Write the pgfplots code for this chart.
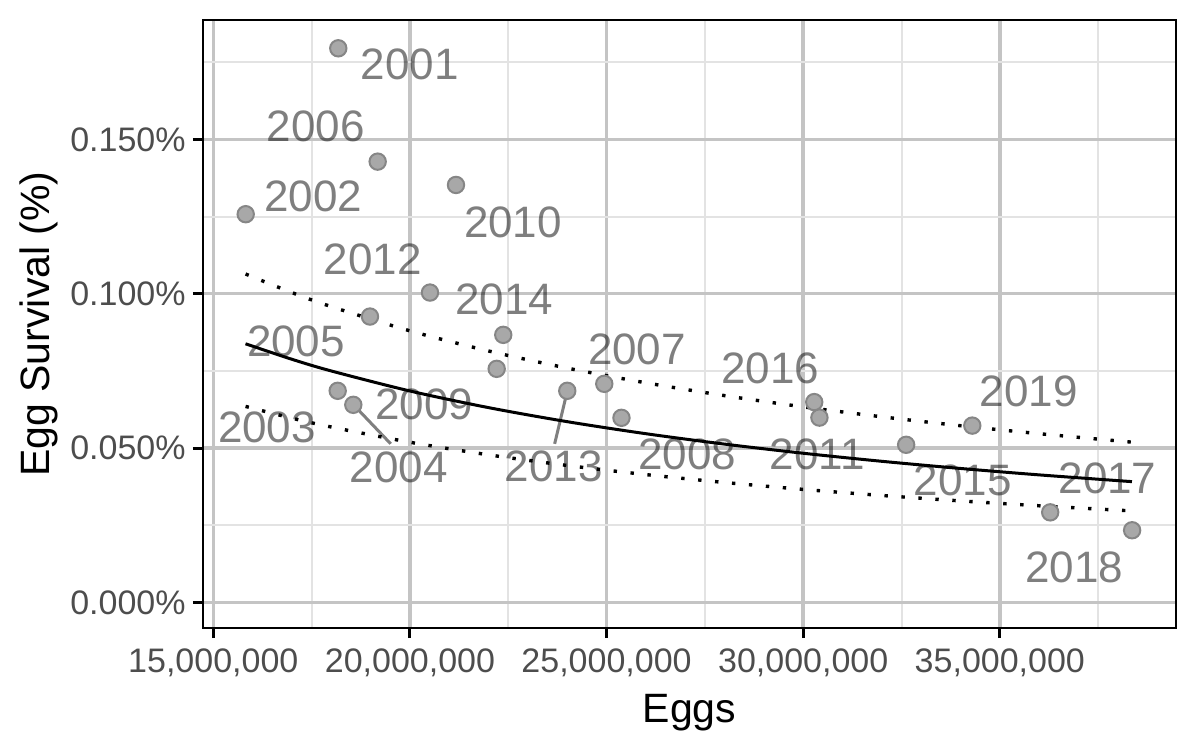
\documentclass[border=0pt]{standalone}
\usepackage{pgfplots}
\pgfplotsset{compat=1.18}
\usepackage{fontspec}
\setmainfont{Liberation Sans}
\definecolor{gridmaj}{HTML}{C4C4C4}
\definecolor{gridmin}{HTML}{E3E3E3}
\definecolor{ticklab}{HTML}{4D4D4D}
\definecolor{labgray}{HTML}{7F7F7F}
\definecolor{ptfill}{HTML}{A8A8A8}
\definecolor{ptdraw}{HTML}{868686}
\begin{document}
\begin{tikzpicture}
\useasboundingbox (-101.5pt,-61pt) rectangle (498.5pt,314pt);
\begin{axis}[
  scale only axis, width=486.5pt, height=304pt,
  xmin=14.738, xmax=39.48, ymin=-0.00829, ymax=0.1887,
  xtick={15,20,25,30,35},
  xticklabels={{15,000,000},{20,000,000},{25,000,000},{30,000,000},{35,000,000}},
  minor xtick={17.5,22.5,27.5,32.5,37.5},
  ytick={0,0.05,0.1,0.15},
  yticklabels={0.000\%,0.050\%,0.100\%,0.150\%},
  minor ytick={0.025,0.075,0.125,0.175},
  grid=both,
  major grid style={gridmaj, line width=1.7pt},
  minor grid style={gridmin, line width=1pt},
  tick align=outside,
  xtick pos=bottom, ytick pos=left,
  major tick length=5pt, minor tick length=0pt,
  major tick style={black, line width=1.5pt},
  axis line style={black, line width=0.6pt},
  ticklabel style={font=\fontsize{17}{20}\selectfont, text=ticklab},
  xticklabel style={anchor=north, inner sep=0pt, yshift=-5pt},
  yticklabel style={anchor=east, inner sep=0pt, xshift=-3.5pt},
  xlabel={Eggs}, ylabel={Egg Survival (\%)},
  label style={font=\fontsize{20.5}{24}\selectfont, text=black, inner sep=0pt},
  xlabel style={at={(axis description cs:0.5,-0.1546)}, anchor=base},
  ylabel style={at={(axis description cs:-0.15725,0.5)}, anchor=base},
  clip=false,
]
% year labels
\addplot[draw=none, mark=none, nodes near coords, point meta=explicit symbolic,
  nodes near coords style={anchor=center, inner sep=0pt, yshift=0pt,
    font=\fontsize{22}{26}\selectfont, text=black, text opacity=0.5}]
  table[meta=lab] {
x y lab
19.994 0.17422 2001
17.604 0.15414 2006
17.543 0.13170 2002
22.620 0.12306 2010
19.053 0.11120 2012
22.399 0.09803 2014
17.103 0.08452 2005
16.365 0.05667 2003
20.365 0.06425 2009
19.714 0.04372 2004
23.655 0.04394 2013
25.773 0.08183 2007
29.160 0.07597 2016
35.740 0.06833 2019
27.049 0.04786 2008
30.357 0.04786 2011
34.057 0.03960 2015
37.738 0.04012 2017
36.897 0.01127 2018
};
% label segments
\addplot[labgray, line width=1.5pt, mark=none] coordinates {(18.687,0.06240) (19.511,0.05139)};
\addplot[labgray, line width=1.5pt, mark=none] coordinates {(23.968,0.06671) (23.680,0.05139)};
% points
\addplot[only marks, mark=*, mark size=4.1pt, mark options={fill=ptfill, draw=ptdraw, line width=1pt}]
  table {
x y
18.178 0.17953
19.180 0.14281
21.171 0.13526
15.824 0.12578
20.510 0.10039
18.984 0.09262
22.373 0.08669
22.206 0.07568
18.163 0.06856
18.560 0.06402
24.001 0.06856
24.942 0.07082
25.379 0.05981
30.281 0.06490
30.413 0.05988
32.618 0.05107
34.300 0.05729
36.281 0.02918
38.364 0.02338
};
% fitted curve
\addplot[black, line width=1.5pt, mark=none, smooth] coordinates {
(15.82,0.08380) (17,0.07877) (18,0.07499) (20,0.06850) (22,0.06311) (24,0.05856)
(26,0.05466) (28,0.05129) (30,0.04833) (32,0.04572) (34,0.04340) (36,0.04132) (38.36,0.03913)};
% upper bound
\addplot[black, line width=1.7pt, mark=none, smooth, dash pattern=on 1.7pt off 6.8pt] coordinates {
(15.82,0.10640) (17,0.10038) (18,0.09584) (20,0.08799) (22,0.08146) (24,0.07592)
(26,0.07115) (28,0.06700) (30,0.06336) (32,0.06014) (34,0.05725) (36,0.05467) (38.36,0.05192)};
% lower bound
\addplot[black, line width=1.7pt, mark=none, smooth, dash pattern=on 1.7pt off 6.8pt] coordinates {
(15.82,0.06350) (17,0.05969) (18,0.05683) (20,0.05190) (22,0.04782) (24,0.04437)
(26,0.04142) (28,0.03886) (30,0.03662) (32,0.03465) (34,0.03289) (36,0.03131) (38.36,0.02965)};
\end{axis}
\end{tikzpicture}
\end{document}
